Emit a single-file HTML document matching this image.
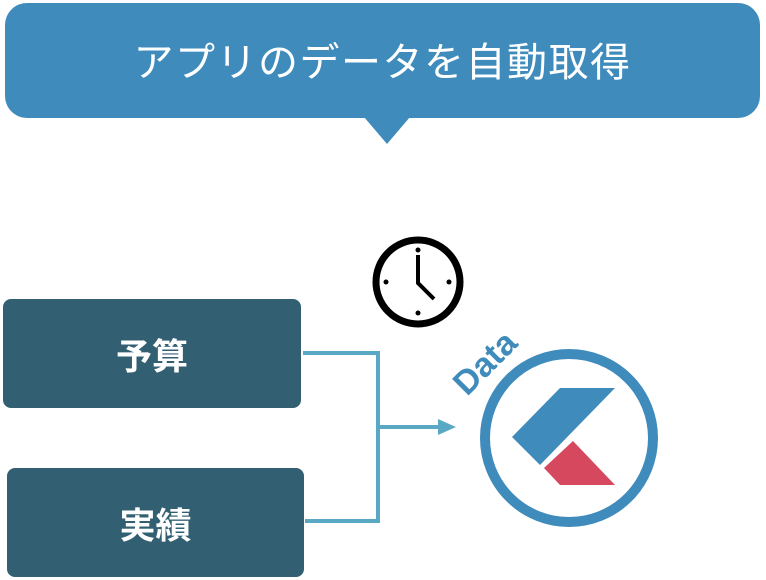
<!DOCTYPE html>
<html><head><meta charset="utf-8"><style>
body{margin:0;width:766px;height:580px;background:#fff;position:relative;overflow:hidden;font-family:"Liberation Sans","Noto Sans CJK JP",sans-serif}
.b{position:absolute;color:#fff;display:flex;align-items:center;justify-content:center}
</style></head><body>
<div class="b" style="left:5px;top:3px;width:755px;height:115px;background:#3f8bbc;border-radius:22px;font-size:40px;letter-spacing:1.5px;padding-bottom:4px;box-sizing:border-box">アプリのデータを自動取得</div>
<div class="b" style="left:3px;top:299px;width:298px;height:109px;background:#335f73;border-radius:8px;font-size:36px;font-weight:bold">予算</div>
<div class="b" style="left:7px;top:468px;width:297px;height:109px;background:#335f73;border-radius:8px;font-size:36px;font-weight:bold">実績</div>
<svg width="766" height="580" style="position:absolute;left:0;top:0">
<polygon points="364,117 410,117 387,144" fill="#3f8bbc"/>
<polyline points="303,353 378,353 378,521 305,521" fill="none" stroke="#5aa9c4" stroke-width="4"/>
<line x1="378" y1="427" x2="442" y2="427" stroke="#5aa9c4" stroke-width="4"/>
<polygon points="438,419 456,427 438,435" fill="#5aa9c4"/>
<circle cx="418" cy="282" r="42" fill="none" stroke="#000" stroke-width="7"/>
<polyline points="418,255 418,283 434,299" fill="none" stroke="#000" stroke-width="4"/>
<circle cx="418" cy="250" r="2.5"/><circle cx="418" cy="313" r="2.5"/><circle cx="386" cy="282" r="2.5"/><circle cx="449" cy="282" r="2.5"/>
<circle cx="569" cy="438" r="84" fill="none" stroke="#3f8bbc" stroke-width="10"/>
<polygon points="560,388 615,388 540,465 512,437" fill="#3f8bbc"/>
<polygon points="573,441 615,485 560,485 544,468" fill="#d5485e"/>
<text x="0" y="0" transform="translate(467,397) rotate(-45)" font-family="Liberation Sans,sans-serif" font-size="34" font-weight="bold" fill="#3f8bbc">Data</text>
</svg>
</body></html>
